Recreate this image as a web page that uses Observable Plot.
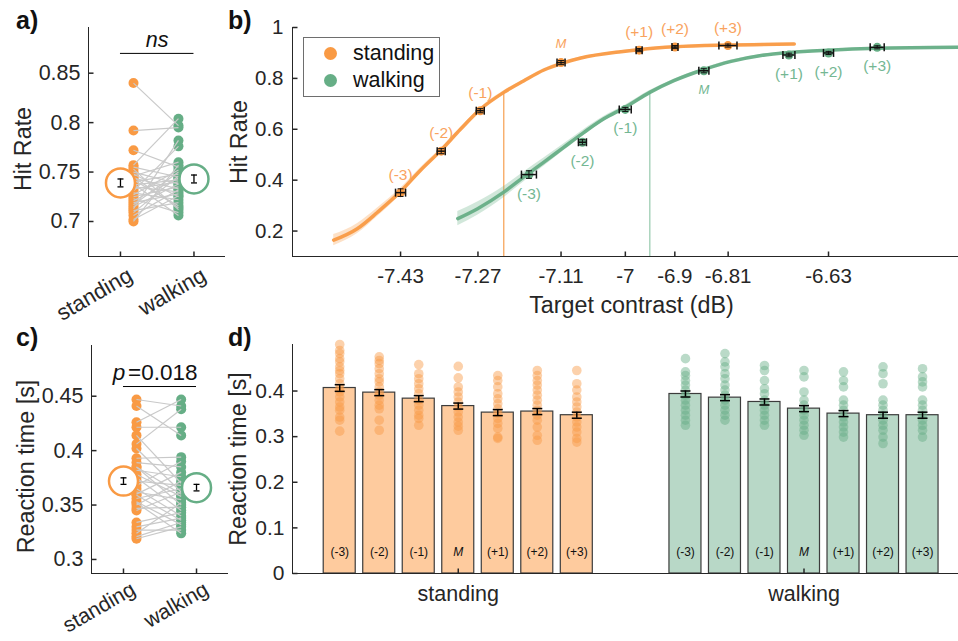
<!DOCTYPE html>
<html><head><meta charset="utf-8">
<script src="https://cdn.jsdelivr.net/npm/d3@7"></script>
<script src="https://cdn.jsdelivr.net/npm/@observablehq/plot@0.6"></script>
<style>
body{margin:0;background:#fff;}
#fig{position:relative;width:958px;height:641px;overflow:hidden;font-family:"Liberation Sans",Arial,Helvetica,sans-serif;color:#262626;}
.letter{position:absolute;font-weight:bold;font-size:25px;line-height:25px;color:#111;}
</style></head>
<body><div id="fig"></div>
<script>
// ---------------- DATA ----------------
const conditions = ["standing", "walking"];
const levels = ["(-3)", "(-2)", "(-1)", "M", "(+1)", "(+2)", "(+3)"];

// a) per-subject hit rate (paired by index)
const hitStanding = [0.840, 0.792, 0.772, 0.757, 0.755, 0.753, 0.750, 0.748, 0.746, 0.744, 0.742, 0.740, 0.738, 0.737, 0.735, 0.733, 0.731, 0.729, 0.727, 0.725, 0.723, 0.721, 0.719, 0.717, 0.715, 0.713, 0.711, 0.709, 0.706, 0.702, 0.700, 0.745];
const hitWalking  = [0.797, 0.795, 0.755, 0.804, 0.745, 0.712, 0.738, 0.725, 0.760, 0.733, 0.716, 0.748, 0.706, 0.742, 0.730, 0.740, 0.776, 0.722, 0.752, 0.735, 0.709, 0.744, 0.728, 0.750, 0.738, 0.782, 0.719, 0.746, 0.732, 0.726, 0.757, 0.714];
const hitMean = [0.739, 0.743];
const hitSem = [0.004, 0.004];
const hitTicks = [0.7, 0.75, 0.8, 0.85];

// c) per-subject reaction time (paired by index)
const rtStanding = [0.447, 0.441, 0.426, 0.4215, 0.414, 0.406, 0.402, 0.393, 0.389, 0.385, 0.382, 0.378, 0.375, 0.372, 0.368, 0.365, 0.362, 0.359, 0.356, 0.353, 0.350, 0.347, 0.345, 0.334, 0.330, 0.327, 0.324, 0.321, 0.319, 0.385, 0.360, 0.352];
const rtWalking  = [0.441, 0.414, 0.447, 0.4215, 0.370, 0.438, 0.362, 0.394, 0.385, 0.350, 0.376, 0.358, 0.345, 0.368, 0.390, 0.340, 0.355, 0.336, 0.365, 0.332, 0.372, 0.348, 0.362, 0.343, 0.338, 0.327, 0.352, 0.334, 0.330, 0.360, 0.380, 0.324];
const rtMean = [0.372, 0.366];
const rtSem = [0.003, 0.003];
const rtTicks = [0.3, 0.35, 0.4, 0.45];
const pValueText = "=0.018";

// b) hit rate per contrast level
const contrastStanding = [-7.430, -7.354, -7.281, -7.130, -6.984, -6.917, -6.818];
const hitRateStanding = [0.351, 0.514, 0.673, 0.862, 0.911, 0.923, 0.929];
const contrastErrStanding = [0.0094, 0.0075, 0.0075, 0.0075, 0.0056, 0.0056, 0.0169];
const hitRateErrStanding = [0.015, 0.010, 0.008, 0.008, 0.006, 0.006, 0.006];
const contrastWalking = [-7.190, -7.090, -7.010, -6.863, -6.704, -6.630, -6.539];
const hitRateWalking = [0.422, 0.549, 0.678, 0.830, 0.892, 0.900, 0.922];
const contrastErrWalking = [0.0140, 0.0075, 0.0112, 0.0094, 0.0112, 0.0094, 0.0131];
const hitRateErrWalking = [0.015, 0.010, 0.008, 0.008, 0.007, 0.006, 0.006];
// fitted psychometric curves
const fitContrastStanding = [-7.555, -7.511, -7.473, -7.430, -7.393, -7.355, -7.318, -7.280, -7.237, -7.200, -7.162, -7.127, -7.093, -7.018, -6.984, -6.917, -6.818, -6.694];
const fitHitStanding = [0.164, 0.209, 0.274, 0.355, 0.438, 0.516, 0.600, 0.680, 0.745, 0.790, 0.833, 0.860, 0.880, 0.905, 0.913, 0.924, 0.931, 0.935];
const fitCIStanding = [0.022, 0.020, 0.017, 0.013, 0.010, 0.008, 0.007, 0.006, 0.006, 0.005, 0.005, 0.005, 0.004, 0.004, 0.004, 0.004, 0.004, 0.004];
const fitContrastWalking = [-7.323, -7.286, -7.237, -7.200, -7.162, -7.125, -7.087, -7.050, -7.011, -6.964, -6.919, -6.863, -6.812, -6.756, -6.703, -6.630, -6.539, -6.387];
const fitHitWalking = [0.249, 0.288, 0.353, 0.412, 0.471, 0.529, 0.588, 0.641, 0.685, 0.745, 0.791, 0.835, 0.867, 0.890, 0.902, 0.911, 0.918, 0.922];
const fitCIWalking = [0.028, 0.026, 0.022, 0.019, 0.016, 0.013, 0.011, 0.009, 0.008, 0.007, 0.006, 0.005, 0.005, 0.004, 0.004, 0.004, 0.004, 0.004];
const thresholdContrast = [-7.237, -6.964];
const thresholdHit = [0.745, 0.745];
const hitRateTicks = [0.2, 0.4, 0.6, 0.8, 1];
const contrastTicks = [-7.430, -7.2853, -7.130, -7.0098, -6.9173, -6.8176, -6.630];
const contrastTickLabels = ["-7.43", "-7.27", "-7.11", "-7", "-6.9", "-6.81", "-6.63"];

// d) reaction time per level
const rtBarStanding = [0.4066, 0.3965, 0.3833, 0.367, 0.3527, 0.355, 0.347];
const rtBarWalking = [0.3935, 0.3855, 0.376, 0.3614, 0.3505, 0.347, 0.347];
const rtBarErrStanding = [0.0073, 0.0066, 0.0066, 0.0066, 0.0066, 0.0066, 0.0066];
const rtBarErrWalking = [0.0066, 0.0066, 0.0066, 0.0066, 0.0066, 0.0066, 0.0066];
const rtDotsStanding = [
  [0.502, 0.489, 0.482, 0.471, 0.464, 0.453, 0.445, 0.438, 0.427, 0.416, 0.405, 0.398, 0.387, 0.376, 0.365, 0.358, 0.343, 0.336, 0.312],
  [0.475, 0.467, 0.460, 0.449, 0.438, 0.427, 0.420, 0.409, 0.398, 0.391, 0.380, 0.369, 0.361, 0.336, 0.314],
  [0.458, 0.438, 0.427, 0.416, 0.405, 0.394, 0.380, 0.369, 0.358, 0.347, 0.340, 0.325],
  [0.454, 0.429, 0.409, 0.398, 0.387, 0.376, 0.365, 0.354, 0.343, 0.332, 0.323, 0.314],
  [0.434, 0.423, 0.409, 0.394, 0.383, 0.372, 0.361, 0.351, 0.340, 0.329, 0.318, 0.299, 0.296],
  [0.445, 0.434, 0.423, 0.413, 0.402, 0.391, 0.380, 0.369, 0.358, 0.347, 0.336, 0.321, 0.303, 0.292],
  [0.445, 0.416, 0.402, 0.387, 0.376, 0.365, 0.354, 0.343, 0.332, 0.321, 0.310, 0.296, 0.288]
];
const rtDotsWalking = [
  [0.471, 0.442, 0.434, 0.423, 0.413, 0.402, 0.391, 0.380, 0.369, 0.358, 0.347, 0.336, 0.325],
  [0.482, 0.464, 0.453, 0.438, 0.427, 0.413, 0.402, 0.391, 0.380, 0.369, 0.358, 0.347, 0.336],
  [0.456, 0.445, 0.423, 0.405, 0.394, 0.380, 0.369, 0.358, 0.347, 0.336, 0.325],
  [0.445, 0.431, 0.398, 0.380, 0.369, 0.358, 0.347, 0.336, 0.325, 0.314, 0.303],
  [0.442, 0.423, 0.409, 0.380, 0.369, 0.358, 0.343, 0.332, 0.321, 0.310, 0.299],
  [0.453, 0.438, 0.416, 0.380, 0.369, 0.358, 0.347, 0.336, 0.325, 0.314, 0.299, 0.285],
  [0.449, 0.431, 0.420, 0.409, 0.380, 0.369, 0.358, 0.347, 0.336, 0.325, 0.314, 0.299]
];
const rtBarTicks = [0, 0.1, 0.2, 0.3, 0.4];

// ---------------- STYLE ----------------
const FONT = '"Liberation Sans", Arial, Helvetica, sans-serif';
const AXC = "#262626";
const ORANGE = "#F99A44", GREEN = "#66AE86";
const COLORS = [ORANGE, GREEN];
const THRESH_COLORS = ["#F5963F", "#8CC4A5"];
const LABEL_COLORS = ["#F9A35E", "#74B793"];
const LABEL_FS = 23.3;
const fig = document.getElementById("fig");
const baseStyle = fs => ({fontFamily: FONT, fontSize: fs + "px", color: AXC, background: "transparent", overflow: "visible"});
const tickUp = {draw(ctx) { ctx.moveTo(0, 0); ctx.lineTo(0, -5); }};
const tickRight = {draw(ctx) { ctx.moveTo(0, 0); ctx.lineTo(5, 0); }};
const vcap = h => ({draw(ctx) { ctx.moveTo(0, -h); ctx.lineTo(0, h); }});
const hcap = w => ({draw(ctx) { ctx.moveTo(-w, 0); ctx.lineTo(w, 0); }});
function place(node, left, top) {
  node.style.position = "absolute"; node.style.left = left + "px"; node.style.top = top + "px";
  fig.appendChild(node);
}
function letter(t, left, top) {
  const d = document.createElement("div"); d.className = "letter"; d.textContent = t;
  d.style.left = left + "px"; d.style.top = top + "px"; fig.appendChild(d);
}

// ------------- paired panels (a, c) -------------
function pairedPanel({left, top, width, height, mL, mR, mT, mB, xDom, yDom, s, w, mean, sem, ticks, yLabel, labelX, dotOff, statY, statMarks, catPad, catFS}) {
  const xs = () => 1 + dotOff[0], xw = () => 2 + dotOff[1];
  const p = Plot.plot({
    width, height, marginLeft: mL, marginRight: mR, marginTop: mT, marginBottom: mB,
    style: baseStyle(21.5),
    x: {domain: xDom}, y: {domain: yDom},
    marks: [
      Plot.ruleY([yDom[0]], {stroke: AXC, strokeWidth: 1}),
      Plot.ruleX([xDom[0]], {stroke: AXC, strokeWidth: 1}),
      Plot.axisY({ticks, tickSize: 0, tickPadding: 8, tickFormat: d => String(d), fontSize: 21.5, label: null}),
      Plot.axisX({ticks: [1, 2], tickSize: 0, tickPadding: catPad, tickRotate: -30, dx: 10, tickFormat: d => conditions[d - 1], fontSize: catFS, label: null}),
      Plot.dot(ticks, {y: d => d, frameAnchor: "left", symbol: tickRight, stroke: AXC, fill: "none"}),
      Plot.dot([1, 2], {x: d => d, frameAnchor: "bottom", symbol: tickUp, stroke: AXC, fill: "none"}),
      Plot.dot(s, {x: xs, y: d => d, r: 5, fill: ORANGE}),
      Plot.dot(w, {x: xw, y: d => d, r: 5, fill: GREEN}),
      Plot.link(s, {x1: xs, y1: d => d, x2: xw, y2: (d, i) => w[i], stroke: "#c9c9c9", strokeWidth: 1.2}),
      Plot.dot(conditions, {x: (d, i) => i + 1, y: (d, i) => mean[i], r: 14.5, fill: "white", stroke: (d, i) => COLORS[i], strokeWidth: 2.5}),
      Plot.ruleX(conditions, {x: (d, i) => i + 1, y1: (d, i) => mean[i] - sem[i], y2: (d, i) => mean[i] + sem[i], stroke: "#000", strokeWidth: 1.3}),
      Plot.dot(conditions, {x: (d, i) => i + 1, y: (d, i) => mean[i] - sem[i], symbol: hcap(3), stroke: "#000", fill: "none", strokeWidth: 1.3}),
      Plot.dot(conditions, {x: (d, i) => i + 1, y: (d, i) => mean[i] + sem[i], symbol: hcap(3), stroke: "#000", fill: "none", strokeWidth: 1.3}),
      Plot.ruleY([statY], {x1: 1, x2: 2, stroke: "#000", strokeWidth: 1}),
      ...statMarks,
      Plot.text([yLabel], {text: d => d, frameAnchor: "left", textAnchor: "middle", lineAnchor: "middle", dx: labelX - mL, dy: 7, rotate: -90, fontSize: LABEL_FS, fill: AXC})
    ]
  });
  place(p, left, top);
}

pairedPanel({left: 0, top: 0, width: 235, height: 320, mL: 88, mR: 10, mT: 27, mB: 64,
  xDom: [0.565, 2.429], yDom: [0.6646, 0.8962], s: hitStanding, w: hitWalking, mean: hitMean, sem: hitSem,
  ticks: hitTicks, yLabel: "Hit Rate", labelX: 23, dotOff: [0.177, -0.211], statY: 0.87, catPad: 17, catFS: 22,
  statMarks: [Plot.text(["ns"], {text: d => d, x: 1.5, y: 0.87, dy: -13, fontStyle: "italic", fontSize: 21.5, fill: "#111"})]});

pairedPanel({left: 0, top: 320, width: 240, height: 321, mL: 91, mR: 12, mT: 25, mB: 68,
  xDom: [0.562, 2.438], yDom: [0.2871, 0.4966], s: rtStanding, w: rtWalking, mean: rtMean, sem: rtSem,
  ticks: rtTicks, yLabel: "Reaction time [s]", labelX: 26, dotOff: [0.178, -0.21], statY: 0.4589, catPad: 14, catFS: 21,
  statMarks: [
    Plot.text(["p"], {text: d => d, x: 1.5, y: 0.4589, dy: -14, dx: -41, fontStyle: "italic", fontSize: 22.5, fill: "#111"}),
    Plot.text([pValueText], {text: d => d, x: 1.5, y: 0.4589, dy: -14, dx: -32, textAnchor: "start", fontSize: 22.5, fill: "#111"})
  ]});

// ------------- panel b -------------
const ptsB = [
  ...contrastStanding.map((x, i) => ({c: 0, x, y: hitRateStanding[i], xe: contrastErrStanding[i], ye: hitRateErrStanding[i], label: levels[i]})),
  ...contrastWalking.map((x, i) => ({c: 1, x, y: hitRateWalking[i], xe: contrastErrWalking[i], ye: hitRateErrWalking[i], label: levels[i]}))
];
const fitB = [
  ...fitContrastStanding.map((x, i) => ({c: 0, x, y: fitHitStanding[i], ci: fitCIStanding[i]})),
  ...fitContrastWalking.map((x, i) => ({c: 1, x, y: fitHitWalking[i], ci: fitCIWalking[i]}))
];
const xDomB = [-7.632, -6.387], yDomB = [0.1, 1];
const plotB = Plot.plot({
  width: 728, height: 320, marginLeft: 62, marginRight: 0, marginTop: 27, marginBottom: 64,
  style: baseStyle(20.5),
  x: {domain: xDomB}, y: {domain: yDomB},
  marks: [
    Plot.ruleY([yDomB[0]], {stroke: AXC}),
    Plot.ruleX([xDomB[0]], {stroke: AXC}),
    Plot.axisY({ticks: hitRateTicks, tickSize: 0, tickPadding: 9, tickFormat: d => String(d), fontSize: 20.5, label: null}),
    Plot.axisX({ticks: contrastTicks, tickSize: 0, tickPadding: 12, tickFormat: d => contrastTickLabels[contrastTicks.indexOf(d)], fontSize: 20.5, label: null}),
    Plot.dot(hitRateTicks, {y: d => d, frameAnchor: "left", symbol: tickRight, stroke: AXC, fill: "none"}),
    Plot.dot(contrastTicks, {x: d => d, frameAnchor: "bottom", symbol: tickUp, stroke: AXC, fill: "none"}),
    Plot.ruleX(thresholdContrast, {x: d => d, y1: yDomB[0], y2: (d, i) => thresholdHit[i], stroke: (d, i) => THRESH_COLORS[i], strokeWidth: 1.1}),
    Plot.areaY(fitB, {x: "x", y1: d => d.y - d.ci, y2: d => d.y + d.ci, z: "c", fill: d => COLORS[d.c], fillOpacity: 0.3, curve: "monotone-x"}),
    Plot.line(fitB, {x: "x", y: "y", z: "c", stroke: d => COLORS[d.c], strokeWidth: 3.5, curve: "monotone-x", strokeOpacity: 0.95}),
    Plot.dot(ptsB, {x: "x", y: "y", r: 4.5, fill: d => COLORS[d.c]}),
    Plot.ruleY(ptsB, {y: "y", x1: d => d.x - d.xe, x2: d => d.x + d.xe, stroke: "#111", strokeWidth: 1.5}),
    Plot.dot(ptsB, {x: d => d.x - d.xe, y: "y", symbol: vcap(4), stroke: "#111", fill: "none", strokeWidth: 1.5}),
    Plot.dot(ptsB, {x: d => d.x + d.xe, y: "y", symbol: vcap(4), stroke: "#111", fill: "none", strokeWidth: 1.5}),
    Plot.ruleX(ptsB, {x: "x", y1: d => d.y - d.ye, y2: d => d.y + d.ye, stroke: "#111", strokeWidth: 1}),
    Plot.dot(ptsB, {x: "x", y: d => d.y - d.ye, symbol: hcap(3), stroke: "#111", fill: "none", strokeWidth: 1}),
    Plot.dot(ptsB, {x: "x", y: d => d.y + d.ye, symbol: hcap(3), stroke: "#111", fill: "none", strokeWidth: 1}),
    Plot.text(ptsB.filter(d => d.c === 0 && d.label !== "M"), {x: "x", y: "y", text: "label", dy: -18, fill: LABEL_COLORS[0], fontSize: 15.5}),
    Plot.text(ptsB.filter(d => d.c === 0 && d.label === "M"), {x: "x", y: "y", text: "label", dy: -19, fill: LABEL_COLORS[0], fontSize: 13, fontStyle: "italic"}),
    Plot.text(ptsB.filter(d => d.c === 1 && d.label !== "M"), {x: "x", y: "y", text: "label", dy: 19, fill: LABEL_COLORS[1], fontSize: 15.5}),
    Plot.text(ptsB.filter(d => d.c === 1 && d.label === "M"), {x: "x", y: "y", text: "label", dy: 19, fill: LABEL_COLORS[1], fontSize: 13, fontStyle: "italic"}),
    Plot.text(["Hit Rate"], {text: d => d, frameAnchor: "left", textAnchor: "middle", lineAnchor: "middle", dx: -53, rotate: -90, fontSize: LABEL_FS, fill: AXC}),
    Plot.text(["Target contrast (dB)"], {text: d => d, frameAnchor: "bottom", textAnchor: "middle", lineAnchor: "middle", dx: 6, dy: 49, fontSize: LABEL_FS, fill: AXC})
  ]
});
place(plotB, 230, 0);

// legend (HTML)
(function () {
  const box = document.createElement("div");
  Object.assign(box.style, {position: "absolute", left: "303px", top: "37px", width: "137px", height: "60px", border: "1px solid #6e6e6e", background: "#fff", boxSizing: "border-box"});
  conditions.forEach((c, i) => {
    const dot = document.createElement("div");
    Object.assign(dot.style, {position: "absolute", left: "20px", top: (9 + i * 27) + "px", width: "13px", height: "13px", borderRadius: "50%", background: COLORS[i]});
    const t = document.createElement("div");
    t.textContent = c;
    Object.assign(t.style, {position: "absolute", left: "49px", top: (4 + i * 27) + "px", fontSize: "21.5px", lineHeight: "22px", color: "#111"});
    box.appendChild(dot); box.appendChild(t);
  });
  fig.appendChild(box);
})();

// ------------- panel d -------------
const groupStart = [0, 8.75];
const barsD = [];
const dotsD = [];
[rtBarStanding, rtBarWalking].forEach((vals, g) => {
  const errs = g === 0 ? rtBarErrStanding : rtBarErrWalking;
  const dots = g === 0 ? rtDotsStanding : rtDotsWalking;
  vals.forEach((v, i) => {
    const pos = groupStart[g] + i;
    barsD.push({c: g, pos, v, e: errs[i], label: levels[i]});
    dots[i].forEach(y => dotsD.push({c: g, pos, y}));
  });
});
const groupCenters = [3, 11.75];
const xDomD = [-1.195, 15.66], yDomD = [0, 0.502];
const plotD = Plot.plot({
  width: 728, height: 321, marginLeft: 62, marginRight: 0, marginTop: 24, marginBottom: 68,
  style: baseStyle(21),
  x: {domain: xDomD}, y: {domain: yDomD},
  marks: [
    Plot.rect(barsD, {x1: d => d.pos - 0.405, x2: d => d.pos + 0.405, y1: 0, y2: "v", fill: d => d.c === 0 ? "#FECB9E" : "#B8D8C7", stroke: "#3c3c3c", strokeWidth: 1.2}),
    Plot.dot(dotsD, {x: "pos", y: "y", r: 4.8, fill: d => COLORS[d.c], fillOpacity: 0.45}),
    Plot.ruleX(barsD, {x: "pos", y1: d => d.v - d.e, y2: d => d.v + d.e, stroke: "#000", strokeWidth: 1.5}),
    Plot.dot(barsD, {x: "pos", y: d => d.v - d.e, symbol: hcap(5), stroke: "#000", fill: "none", strokeWidth: 1.5}),
    Plot.dot(barsD, {x: "pos", y: d => d.v + d.e, symbol: hcap(5), stroke: "#000", fill: "none", strokeWidth: 1.5}),
    Plot.text(barsD.filter(d => d.label !== "M"), {x: "pos", y: 0, text: "label", dy: -21, fontSize: 12, fill: "#111"}),
    Plot.text(barsD.filter(d => d.label === "M"), {x: "pos", y: 0, text: "label", dy: -21, fontSize: 12, fontStyle: "italic", fill: "#111"}),
    Plot.ruleY([yDomD[0]], {stroke: AXC}),
    Plot.ruleX([xDomD[0]], {stroke: AXC}),
    Plot.axisY({ticks: rtBarTicks, tickSize: 0, tickPadding: 8, tickFormat: d => String(d), fontSize: 21, label: null}),
    Plot.axisX({ticks: groupCenters, tickSize: 0, tickPadding: 12, tickFormat: d => conditions[groupCenters.indexOf(d)], fontSize: 21.5, label: null}),
    Plot.dot(rtBarTicks, {y: d => d, frameAnchor: "left", symbol: tickRight, stroke: AXC, fill: "none"}),
    Plot.dot(groupCenters, {x: d => d, frameAnchor: "bottom", symbol: tickUp, stroke: AXC, fill: "none"}),
    Plot.text(["Reaction time [s]"], {text: d => d, frameAnchor: "left", textAnchor: "middle", lineAnchor: "middle", dx: -54, rotate: -90, fontSize: LABEL_FS, fill: AXC})
  ]
});
place(plotD, 230, 320);

letter("a)", 16, 8);
letter("b)", 228, 8);
letter("c)", 16, 325);
letter("d)", 228, 325);
</script>
</body></html>
